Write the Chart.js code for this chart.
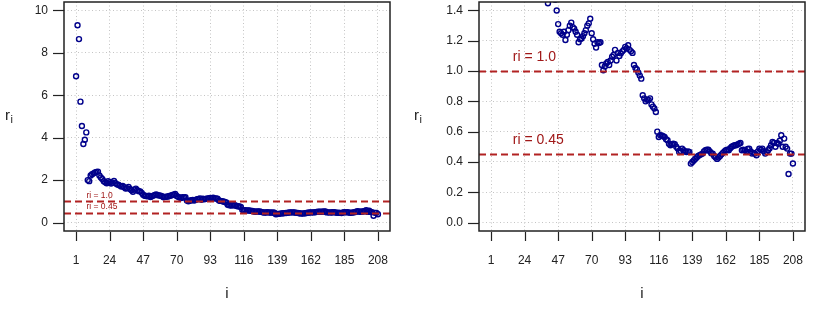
<!DOCTYPE html>
<html>
<head>
<meta charset="utf-8">
<script src="https://cdn.jsdelivr.net/npm/chart.js@4.4.1/dist/chart.umd.min.js"></script>
<style>
  html, body { margin: 0; padding: 0; background: #ffffff; }
  #wrap { display: flex; width: 830px; height: 312px; }
  canvas { display: block; }
</style>
</head>
<body>
<div id="wrap">
  <canvas id="full" width="415" height="312"></canvas>
  <canvas id="zoom" width="415" height="312"></canvas>
</div>
<script>
// r_i for i = 1..208
const ratios = [
  6.9, 9.3, 8.65, 5.7, 4.55, 3.7, 3.9, 4.25,
  2.0, 1.95, 2.22, 2.28, 2.32, 2.36, 2.38, 2.4,
  2.22, 2.12, 2.05, 1.95, 1.9, 1.85, 1.95, 1.9,
  1.84, 1.88, 1.96, 1.86, 1.8, 1.78, 1.74, 1.7,
  1.72, 1.66, 1.6, 1.62, 1.68, 1.58, 1.52, 1.448,
  1.55, 1.6, 1.52, 1.48, 1.47, 1.40, 1.31, 1.26,
  1.25, 1.24, 1.26, 1.205, 1.24, 1.27, 1.30, 1.32,
  1.29, 1.28, 1.26, 1.24, 1.19, 1.21, 1.215, 1.23,
  1.25, 1.27, 1.30, 1.315, 1.345, 1.25, 1.21, 1.18,
  1.155, 1.19, 1.185, 1.19, 1.04, 1.005, 1.03, 1.05,
  1.06, 1.04, 1.07, 1.095, 1.106, 1.14, 1.07, 1.12,
  1.10, 1.117, 1.13, 1.14, 1.16, 1.15, 1.17, 1.14,
  1.13, 1.12, 1.04, 1.02, 1.01, 0.99, 0.97, 0.95,
  0.84, 0.82, 0.80, 0.81, 0.81, 0.82, 0.78, 0.765,
  0.753, 0.73, 0.60, 0.565, 0.576, 0.575, 0.57, 0.565,
  0.55, 0.543, 0.52, 0.51, 0.517, 0.52, 0.517, 0.50,
  0.488, 0.466, 0.472, 0.488, 0.477, 0.47, 0.466, 0.47,
  0.466, 0.389, 0.40, 0.41, 0.42, 0.43, 0.44, 0.445,
  0.45, 0.455, 0.47, 0.477, 0.48, 0.48, 0.47, 0.457,
  0.455, 0.44, 0.43, 0.42, 0.43, 0.44, 0.45, 0.46,
  0.47, 0.477, 0.48, 0.477, 0.49, 0.50, 0.505, 0.51,
  0.51, 0.515, 0.52, 0.525, 0.477, 0.48, 0.477, 0.47,
  0.485, 0.488, 0.47, 0.455, 0.46, 0.455, 0.444, 0.47,
  0.488, 0.48, 0.488, 0.47, 0.455, 0.465, 0.477, 0.49,
  0.51, 0.532, 0.525, 0.50, 0.525, 0.52, 0.54, 0.576,
  0.50, 0.554, 0.50, 0.488, 0.32, 0.455, 0.455, 0.39,
];

const xTicks = [1, 24, 47, 70, 93, 116, 139, 162, 185, 208];
const yTicksFull = [0, 2, 4, 6, 8, 10];
const yTicksZoom = [0, 0.2, 0.4, 0.6, 0.8, 1.0, 1.2, 1.4];
const refLines = [1.0, 0.45];
const refLabels = ["ri = 1.0", "ri = 0.45"];

const FONT = '"Liberation Sans", Arial, Helvetica, sans-serif';
const POINT = "#00008B";
const REF = "#B22222";

// R-style axis range: 4% padding on each side
function padRange(lo, hi) {
  const d = (hi - lo) * 0.04;
  return [lo - d, hi + d];
}

const rFrame = {
  id: "rFrame",
  afterDatasetsDraw(chart, args, opts) {
    const { ctx, chartArea: a, scales: { x, y } } = chart;

    ctx.save();
    ctx.beginPath();
    ctx.rect(a.left, a.top, a.right - a.left, a.bottom - a.top);
    ctx.clip();
    ctx.strokeStyle = REF;
    ctx.lineWidth = 2;
    ctx.setLineDash([7, 4]);
    refLines.forEach((v) => {
      const py = Math.round(y.getPixelForValue(v)) + 0.5;
      ctx.beginPath();
      ctx.moveTo(a.left, py);
      ctx.lineTo(a.right, py);
      ctx.stroke();
    });
    ctx.restore();

    ctx.save();
    ctx.fillStyle = "#A01818";
    ctx.font = `${opts.labelSize}px ${FONT}`;
    ctx.textAlign = "left";
    ctx.textBaseline = "middle";
    refLines.forEach((v, k) => {
      ctx.fillText(refLabels[k], x.getPixelForValue(opts.labelX), y.getPixelForValue(v + opts.labelLift));
    });
    ctx.restore();
  },
  afterDraw(chart, args, opts) {
    const { ctx, chartArea: a, scales: { x, y } } = chart;
    ctx.save();
    ctx.strokeStyle = "#222222";
    ctx.lineWidth = 1.5;
    ctx.strokeRect(a.left, a.top, a.right - a.left, a.bottom - a.top);

    ctx.lineWidth = 1.2;
    x.ticks.forEach((t) => {
      const px = Math.round(x.getPixelForValue(t.value)) + 0.5;
      ctx.beginPath();
      ctx.moveTo(px, a.bottom + 1);
      ctx.lineTo(px, a.bottom + 10);
      ctx.stroke();
    });
    y.ticks.forEach((t) => {
      const py = Math.round(y.getPixelForValue(t.value)) + 0.5;
      ctx.beginPath();
      ctx.moveTo(a.left - 11, py);
      ctx.lineTo(a.left, py);
      ctx.stroke();
    });

    // y axis label r with subscript i
    ctx.fillStyle = "#222222";
    ctx.textAlign = "left";
    ctx.textBaseline = "alphabetic";
    ctx.font = `15px ${FONT}`;
    ctx.fillText("r", opts.ylabX, 120);
    ctx.font = `11px ${FONT}`;
    ctx.fillText("i", opts.ylabX + 5.5, 123);
    ctx.restore();
  },
};

function makeChart(canvasId, yTicks, yDigits, frame) {
  const [xMin, xMax] = padRange(1, 208);
  const [yMin, yMax] = padRange(yTicks[0], yTicks[yTicks.length - 1]);

  return new Chart(document.getElementById(canvasId), {
    type: "scatter",
    plugins: [rFrame],
    data: {
      datasets: [
        {
          data: ratios.map((r, k) => ({ x: k + 1, y: r })),
          pointStyle: "circle",
          pointRadius: 2.5,
          pointHoverRadius: 2.5,
          borderWidth: 1.4,
          borderColor: POINT,
          backgroundColor: "rgba(0,0,0,0)",
          clip: 0,
        },
      ],
    },
    options: {
      responsive: false,
      animation: false,
      events: [],
      layout: { autoPadding: false, padding: { top: 2, right: 25, bottom: 0, left: 0 } },
      plugins: {
        legend: { display: false },
        tooltip: { enabled: false },
        rFrame: frame,
      },
      scales: {
        x: {
          type: "linear",
          min: xMin,
          max: xMax,
          afterBuildTicks(scale) {
            scale.ticks = xTicks.map((v) => ({ value: v }));
          },
          afterFit(scale) {
            scale.height = 81;
            scale.paddingLeft = 0;
            scale.paddingRight = 0;
          },
          grid: { color: "#c4c4c4", lineWidth: 1, drawTicks: false },
          border: { display: false, dash: [1, 2.5] },
          ticks: {
            color: "#222222",
            font: { family: FONT, size: 12 },
            padding: 22,
            maxRotation: 0,
            autoSkip: false,
          },
          title: {
            display: true,
            text: "i",
            color: "#222222",
            font: { family: FONT, size: 15 },
            padding: { top: 0, bottom: 9 },
          },
        },
        y: {
          type: "linear",
          min: yMin,
          max: yMax,
          afterBuildTicks(scale) {
            scale.ticks = yTicks.map((v) => ({ value: v }));
          },
          afterFit(scale) {
            scale.width = 64;
            scale.paddingTop = 0;
            scale.paddingBottom = 0;
          },
          grid: { color: "#c4c4c4", lineWidth: 1, drawTicks: false },
          border: { display: false, dash: [1, 2.5] },
          ticks: {
            color: "#222222",
            font: { family: FONT, size: 12 },
            padding: 16,
            callback(value) {
              return Number(value).toFixed(yDigits);
            },
          },
        },
      },
    },
  });
}

makeChart("full", yTicksFull, 0, { labelX: 8.1, labelLift: 0.28, labelSize: 8.5, ylabX: 5 });
makeChart("zoom", yTicksZoom, 1, { labelX: 15.9, labelLift: 0.095, labelSize: 14, ylabX: -1 });
</script>
</body>
</html>
